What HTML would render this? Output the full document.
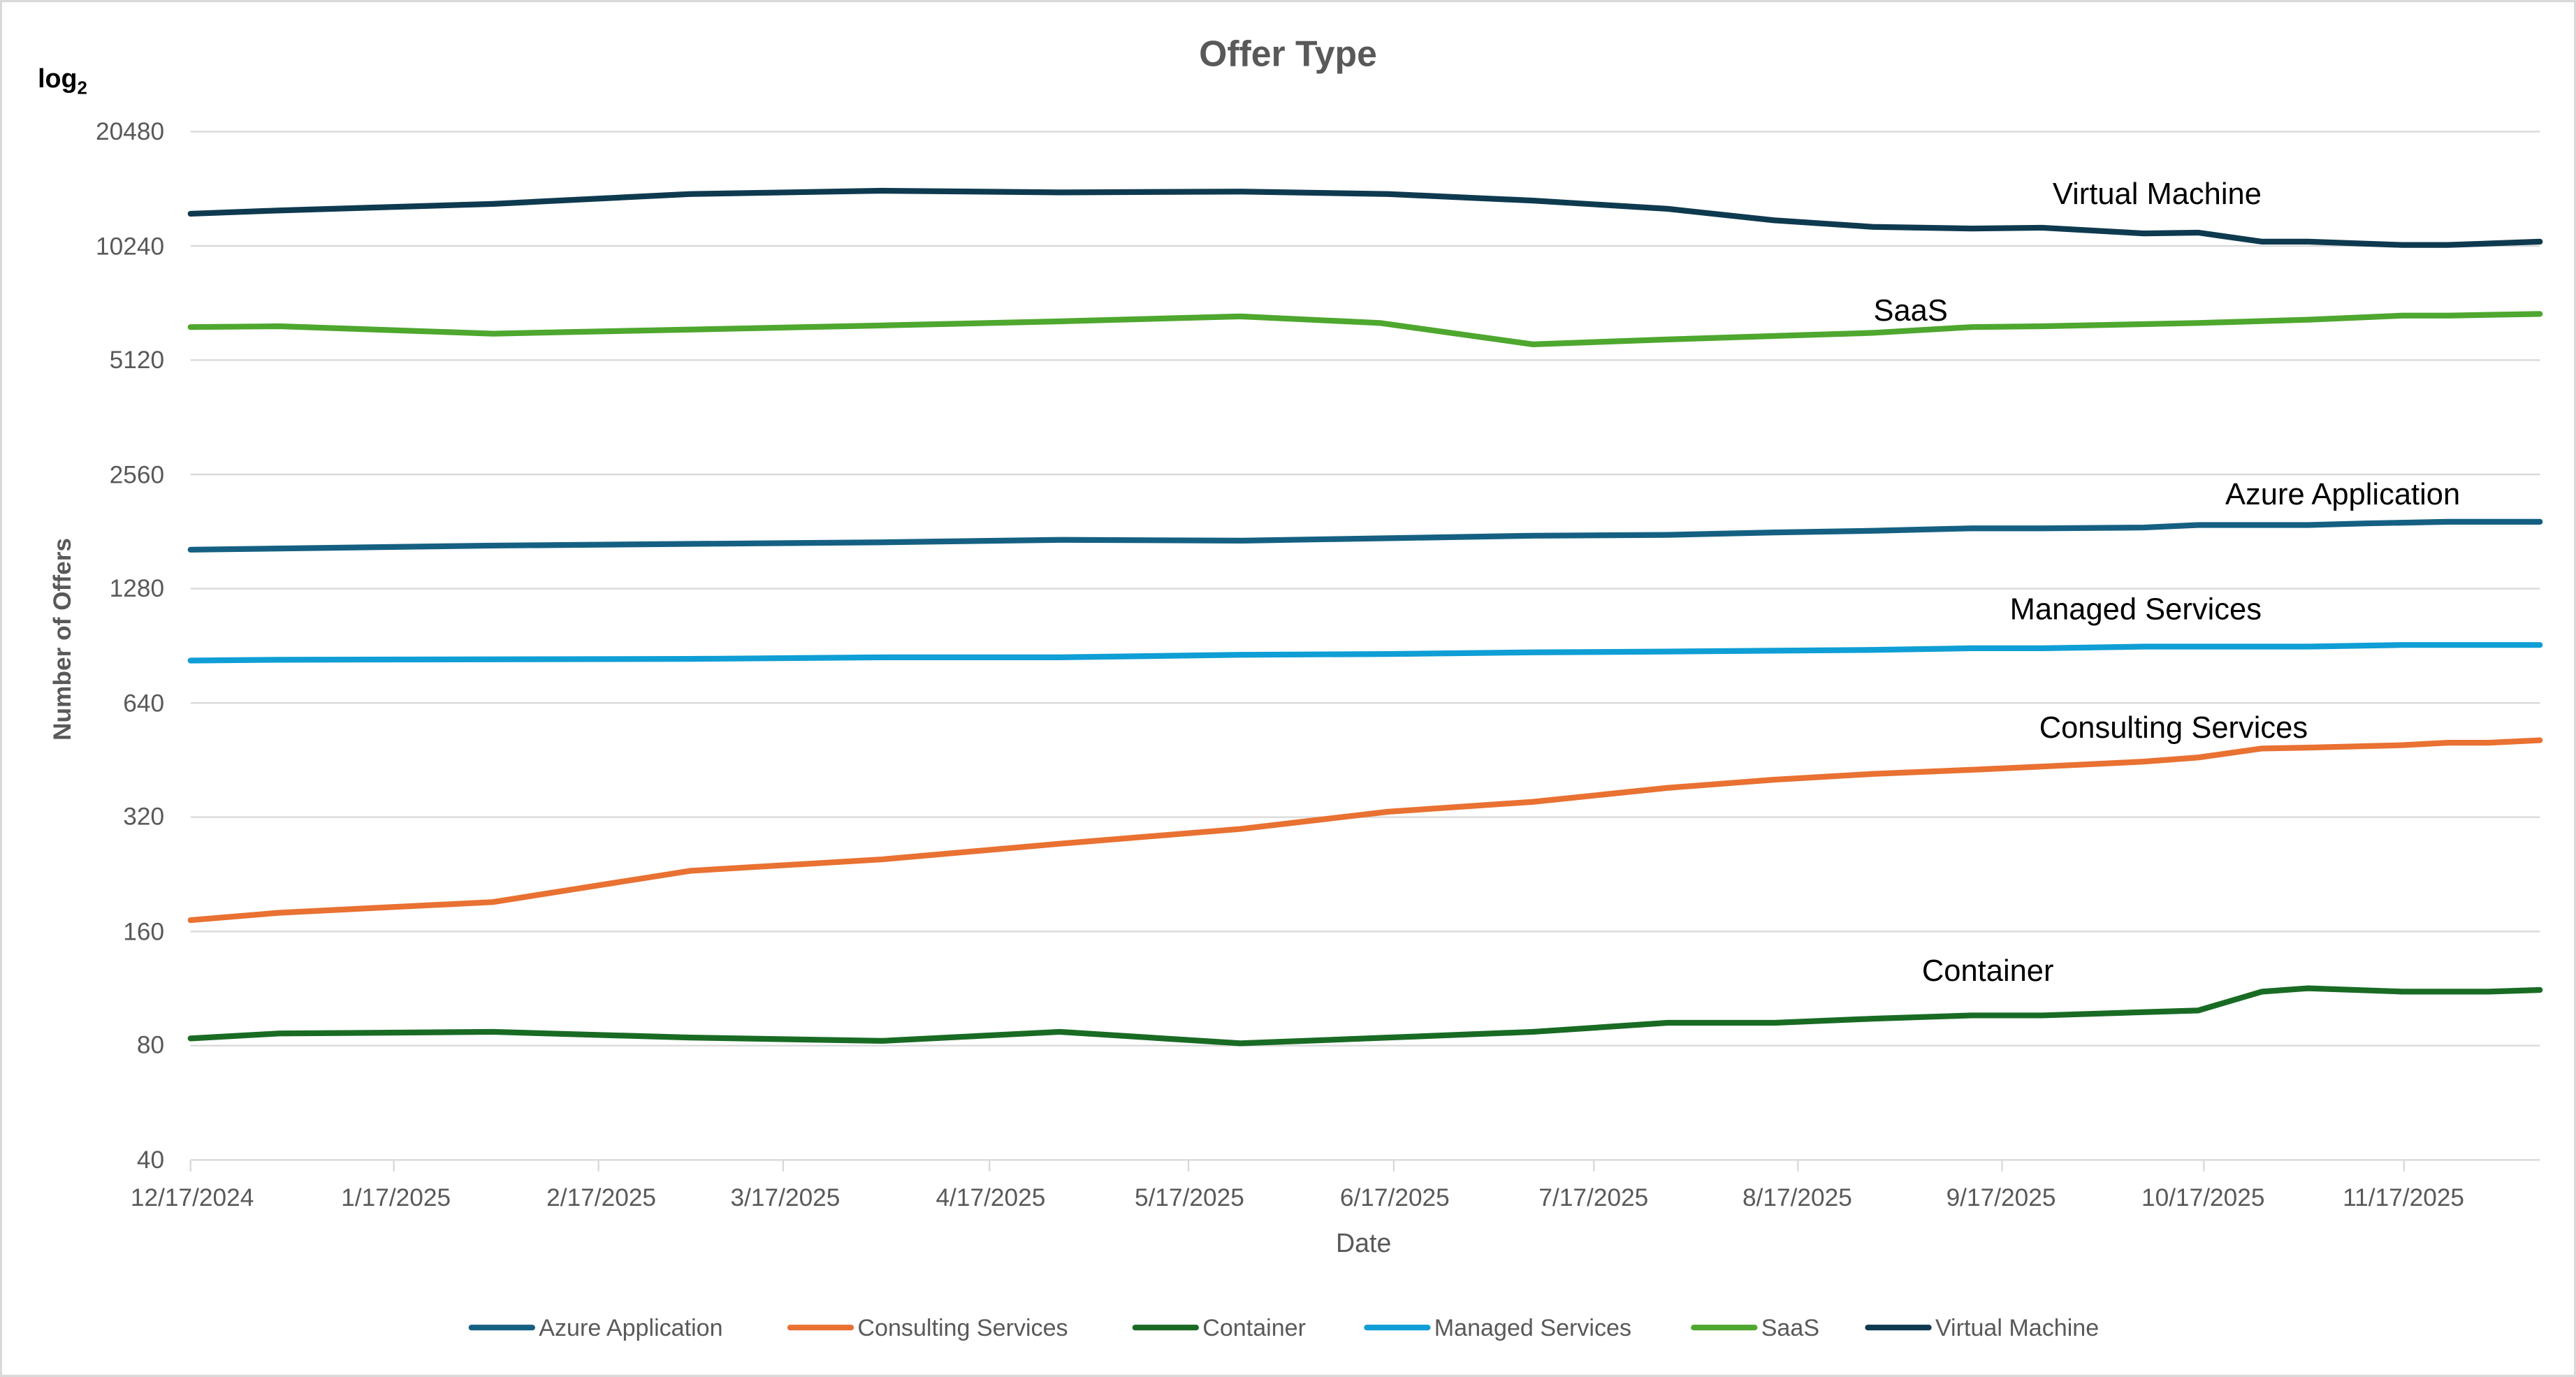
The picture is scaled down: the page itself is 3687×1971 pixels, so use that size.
<!DOCTYPE html>
<html><head><meta charset="utf-8"><style>
html,body{margin:0;padding:0;background:#fff}
svg{display:block}
text{font-family:"Liberation Sans",sans-serif}
</style></head><body>
<svg width="3687" height="1971" viewBox="0 0 1568 838" xmlns="http://www.w3.org/2000/svg">
<rect x="0.5" y="0.5" width="1567" height="837" fill="#fff" stroke="#d9d9d9" stroke-width="1.5"/>
<text x="784" y="40" text-anchor="middle" font-size="22" font-weight="bold" fill="#595959">Offer Type</text>
<text x="23" y="53" font-size="16" font-weight="bold" fill="#000">log<tspan font-size="11" dy="4">2</tspan></text>
<g stroke="#d9d9d9" stroke-width="1">
<line x1="116" x2="1546" y1="80" y2="80"/><line x1="116" x2="1546" y1="149.6" y2="149.6"/>
<line x1="116" x2="1546" y1="219.1" y2="219.1"/><line x1="116" x2="1546" y1="288.7" y2="288.7"/>
<line x1="116" x2="1546" y1="358.2" y2="358.2"/><line x1="116" x2="1546" y1="427.8" y2="427.8"/>
<line x1="116" x2="1546" y1="497.3" y2="497.3"/><line x1="116" x2="1546" y1="566.9" y2="566.9"/>
<line x1="116" x2="1546" y1="636.4" y2="636.4"/><line x1="116" x2="1546" y1="706" y2="706"/>
<path d="M116 706v7M239.7 706v7M364.3 706v7M476.7 706v7M602.3 706v7M723.4 706v7M848.4 706v7M970.2 706v7M1094.4 706v7M1218.6 706v7M1341.5 706v7M1463.3 706v7"/>
</g>
<g font-size="15" fill="#595959" text-anchor="end">
<text x="100" y="85">20480</text><text x="100" y="155">10240</text><text x="100" y="224">5120</text>
<text x="100" y="294">2560</text><text x="100" y="363">1280</text><text x="100" y="433">640</text>
<text x="100" y="502">320</text><text x="100" y="572">160</text><text x="100" y="641">80</text><text x="100" y="711">40</text>
</g>
<g font-size="15" fill="#595959" text-anchor="middle">
<text x="117" y="734">12/17/2024</text><text x="241" y="734">1/17/2025</text><text x="366" y="734">2/17/2025</text>
<text x="478" y="734">3/17/2025</text><text x="603" y="734">4/17/2025</text><text x="724" y="734">5/17/2025</text>
<text x="849" y="734">6/17/2025</text><text x="970" y="734">7/17/2025</text><text x="1094" y="734">8/17/2025</text>
<text x="1218" y="734">9/17/2025</text><text x="1341" y="734">10/17/2025</text><text x="1463" y="734">11/17/2025</text>
</g>
<text x="830" y="762" text-anchor="middle" font-size="16" fill="#595959">Date</text>
<text transform="translate(43,389) rotate(-90)" text-anchor="middle" font-size="15" font-weight="bold" fill="#595959">Number of Offers</text>
<g fill="none" stroke-width="3.5" stroke-linejoin="round" stroke-linecap="round">
<polyline stroke="#0e3a4f" points="116,130 170,128 300,124 420,118 537,116 645,117 755,116.5 845,118 933,122 1015,127 1080,134 1140,138 1200,139 1243,138.5 1305,142 1338,141.5 1377,147 1405,147 1462,149 1490,149 1546,147"/>
<polyline stroke="#4ea72e" points="116,199 170,198.5 300,203 420,200.5 537,198 645,195.5 755,192.5 840,196.5 933,209.5 1015,206.5 1140,202.5 1200,199 1243,198.5 1338,196.5 1405,194.5 1462,192 1490,192 1546,191"/>
<polyline stroke="#156082" points="116,334.5 300,332 537,330 645,328.5 755,329 845,327.5 933,326 1015,325.5 1080,324 1140,323 1200,321.5 1243,321.5 1305,321 1338,319.5 1405,319.5 1440,318.5 1490,317.5 1546,317.5"/>
<polyline stroke="#0f9ed5" points="116,402 170,401.5 420,401 537,400 645,400 755,398.5 845,398 933,397 1015,396.5 1140,395.5 1200,394.5 1243,394.5 1305,393.5 1405,393.5 1462,392.5 1546,392.5"/>
<polyline stroke="#e97132" points="116,560 170,555.5 300,549 420,530 537,523 645,513.5 755,504.5 845,494 933,488 1015,479.5 1080,474.5 1140,471 1200,468.5 1243,466.5 1305,463.5 1338,461 1377,455.5 1405,455 1462,453.5 1490,452 1515,452 1546,450.5"/>
<polyline stroke="#196b24" points="116,632 170,629 300,628 420,631.5 537,633.5 645,628 755,635 845,631.5 933,628 1015,622.5 1080,622.5 1140,620 1200,618 1243,618 1305,616 1338,615 1377,603.5 1405,601.5 1462,603.5 1515,603.5 1546,602.5"/>
</g>
<g font-size="18.5" fill="#000" text-anchor="middle">
<text x="1313" y="124">Virtual Machine</text><text x="1163" y="195">SaaS</text>
<text x="1426" y="307">Azure Application</text><text x="1300" y="377">Managed Services</text>
<text x="1323" y="449">Consulting Services</text><text x="1210" y="597">Container</text>
</g>
<g stroke-width="3.5" stroke-linecap="round">
<line x1="287" x2="324" y1="808" y2="808" stroke="#156082"/>
<line x1="481" x2="518" y1="808" y2="808" stroke="#e97132"/>
<line x1="691" x2="728" y1="808" y2="808" stroke="#196b24"/>
<line x1="832" x2="869" y1="808" y2="808" stroke="#0f9ed5"/>
<line x1="1031" x2="1068" y1="808" y2="808" stroke="#4ea72e"/>
<line x1="1137" x2="1174" y1="808" y2="808" stroke="#0e3a4f"/>
</g>
<g font-size="14.5" fill="#595959">
<text x="328" y="813">Azure Application</text><text x="522" y="813">Consulting Services</text>
<text x="732" y="813">Container</text><text x="873" y="813">Managed Services</text>
<text x="1072" y="813">SaaS</text><text x="1178" y="813">Virtual Machine</text>
</g>
</svg>
</body></html>
